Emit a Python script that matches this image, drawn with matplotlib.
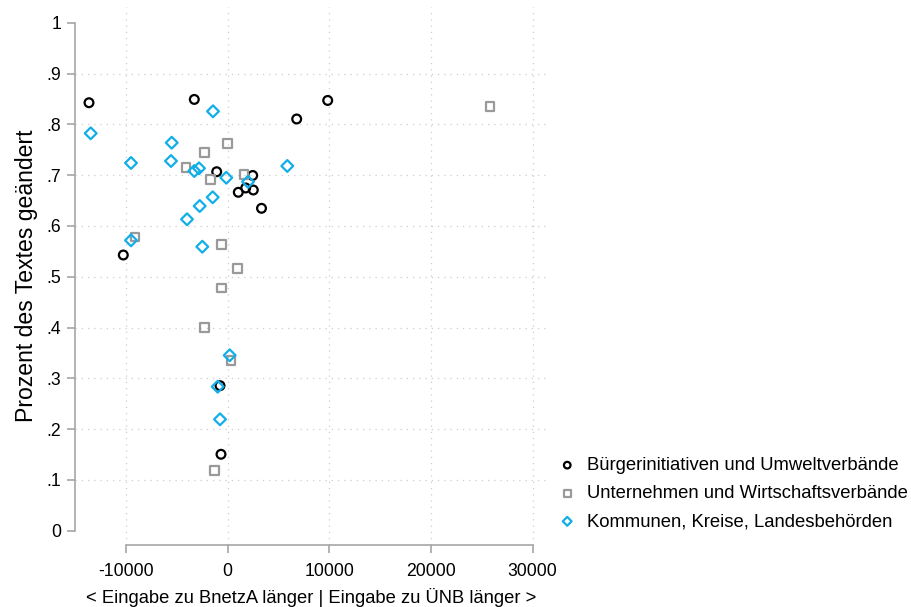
import matplotlib
matplotlib.use("Agg")
import matplotlib.pyplot as plt
import numpy as np

plt.rcParams['font.family'] = ['Liberation Sans', 'DejaVu Sans']

# Bürgerinitiativen und Umweltverbände
buerger_x = [-13645, -3286, 9838, 6788, -1082, 2459, 1043, 1771, 2518, 3325, -10271, -757, -659]
buerger_y = [0.8425, 0.849, 0.847, 0.8105, 0.7067, 0.6993, 0.6662, 0.6747, 0.6707, 0.6347, 0.5428, 0.2856, 0.1506]

# Unternehmen und Wirtschaftsverbände
unter_x = [-39, -2302, -4102, -1712, 1604, -9120, -590, 984, -590, 25804, -2302, 325, -1279]
unter_y = [0.7618, 0.7449, 0.7146, 0.6918, 0.7016, 0.5782, 0.5639, 0.5158, 0.4778, 0.8355, 0.4005, 0.3356, 0.1191]

# Kommunen, Kreise, Landesbehörden
komm_x = [-13478, -1446, -5509, -5578, -9513, -3286, -2823, -138, 5863, 1997, -1476, -2755, -4004, -9513, -2499, 197, -984, -757]
komm_y = [0.7823, 0.8256, 0.7638, 0.7278, 0.7239, 0.7081, 0.7134, 0.6949, 0.718, 0.6869, 0.6564, 0.6392, 0.6131, 0.5717, 0.5591, 0.3454, 0.2836, 0.2194]

labels = ["Bürgerinitiativen und Umweltverbände",
          "Unternehmen und Wirtschaftsverbände",
          "Kommunen, Kreise, Landesbehörden"]

xticks = [-10000, 0, 10000, 20000, 30000]
xticklabels = ["-10000", "0", "10000", "20000", "30000"]
yticks = [0, 0.1, 0.2, 0.3, 0.4, 0.5, 0.6, 0.7, 0.8, 0.9, 1.0]
yticklabels = ["0", ".1", ".2", ".3", ".4", ".5", ".6", ".7", ".8", ".9", "1"]

W, H = 911, 607
fig = plt.figure(figsize=(W / 100, H / 100), dpi=100)
L, R, B, T = 75, 548, 545, 7
ax = fig.add_axes([L / W, (H - B) / H, (R - L) / W, (B - T) / H])

x0px, xs = 227.7, 10.165 / 1000
y0px, ys = 530.8, 508.1
ax.set_xlim((L - x0px) / xs, (R - x0px) / xs)
ax.set_ylim((y0px - B) / ys, (y0px - T) / ys)

spine_col = '#a6a6a6'
grid_col = '#cdcdcd'
for xv in xticks:
    ax.axvline(xv, color=grid_col, lw=0.9, ls=(0, (1, 4)), zorder=0)
for yv in yticks[1:-1]:
    ax.axhline(yv, color=grid_col, lw=0.9, ls=(0, (1, 4)), zorder=0)

ax.scatter(buerger_x, buerger_y, marker='o', s=40, facecolors='none',
           edgecolors='black', linewidths=1.6, zorder=3, label=labels[0])
ax.scatter(unter_x, unter_y, marker='s', s=40, facecolors='none',
           edgecolors='#9a9a9a', linewidths=1.6, zorder=3, label=labels[1])
ax.scatter(komm_x, komm_y, marker='D', s=36, facecolors='none',
           edgecolors='#12aee8', linewidths=1.6, zorder=3, label=labels[2])

for s in ['top', 'right']:
    ax.spines[s].set_visible(False)
ax.spines['left'].set_bounds(0, 1)
ax.spines['bottom'].set_bounds(-10000, 30000)
for s in ['left', 'bottom']:
    ax.spines[s].set_color(spine_col)
    ax.spines[s].set_linewidth(1.2)

ax.set_xticks(xticks)
ax.set_xticklabels(xticklabels)
ax.set_yticks(yticks)
ax.set_yticklabels(yticklabels)
ax.tick_params(axis='both', direction='out', length=6, width=1.2, color=spine_col,
               labelsize=12.7, labelcolor='black')
ax.tick_params(axis='x', pad=7)
ax.tick_params(axis='y', pad=4)

ax.set_xlabel("< Eingabe zu BnetzA länger | Eingabe zu ÜNB länger >", fontsize=13.2, labelpad=6)
ax.set_ylabel("Prozent des Textes geändert", fontsize=16.6, labelpad=6)

leg = fig.legend(loc='upper left', bbox_to_anchor=(558 / W, 1 - 457 / H),
                 frameon=False, fontsize=13.3, handlelength=1.0, handletextpad=0.55,
                 labelspacing=0.6, borderpad=0, borderaxespad=0, markerscale=0.75)

fig.savefig("out.png", dpi=100)
